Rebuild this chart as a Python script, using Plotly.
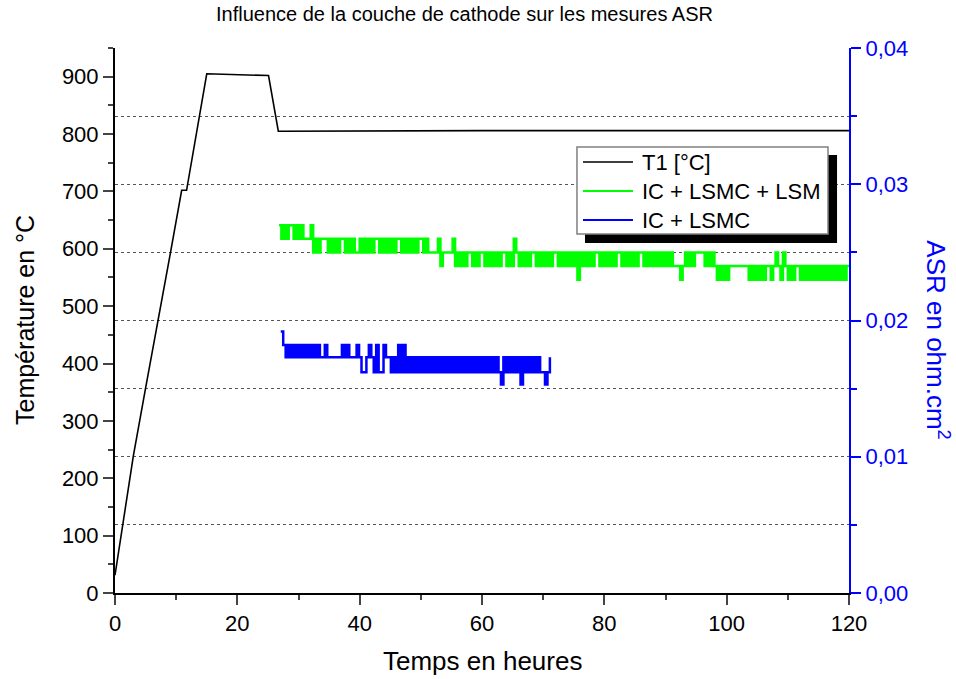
import plotly.graph_objects as go

# T1 temperature curve (hours, °C)
t1_time = [0, 1.3, 3.0, 5.0, 7.1, 9.1, 10.9, 11.7, 15.0, 20.0, 25.1, 26.7, 60.0, 120.0]
t1_temp = [31, 120, 239, 357, 476, 595, 702, 702, 905, 903, 902, 805, 806, 806]

# ASR logs, one reading every 0.4 h, values in 1e-3 ohm.cm2
green_start = 26.8
green_asr = [
    27, 26, 27, 26, 27, 27, 26, 27, 26, 27,
    26, 26, 26, 27,
    25, 26, 25, 26, 26, 26,
    25, 26, 25, 26, 25, 26, 26, 25, 26, 25, 26, 25, 25, 26, 25, 26, 25, 26, 25, 26, 26,
    25, 26, 25, 26, 25, 26, 25, 26, 26, 25, 26, 25, 26, 25, 26, 25, 26, 26, 25, 26, 25,
    25, 25, 25, 26, 24, 25, 25, 25, 25, 26, 24, 25, 24, 25, 24,
    25, 25,
    24, 25, 24, 25, 25, 24, 25, 24, 25, 24, 25, 24, 25, 25, 24, 25, 24,
    26,
    25, 24, 25, 24, 25, 24, 25, 25, 24, 25, 24, 25, 24, 25, 24, 25, 25, 24, 25, 24, 25, 24, 25, 24, 25,
    23,
    25, 24, 25, 24, 25, 24, 25, 25, 24, 25, 24, 25, 24, 25, 24, 25, 25, 24, 25, 24, 25, 24, 25, 24,
    25, 25, 24, 25, 24, 25, 24, 25, 24,
    25, 24, 25, 24, 25, 24,
    24, 24, 23, 24,
    25, 24, 25, 24,
    25, 25, 25, 25,
    24, 25, 24, 25, 24,
    23, 24, 23, 24, 23, 24,
    24, 24, 24, 24, 24, 24, 24,
    23, 24, 23, 24, 23, 24, 23, 24, 24, 23, 24,
    25, 24, 23, 25,
    24, 23, 24, 23, 24, 24, 23, 24, 23, 24, 23, 24, 23, 24, 23, 24, 23, 24, 23, 24, 23, 24, 23,
    24, 23, 24,
    24,
]

blue_start = 27.1
blue_asr = [
    19.2,
    18.2, 17.3, 18.2, 17.3, 18.2, 17.3, 18.2, 17.3, 18.2, 17.3, 18.2, 17.3, 18.2, 17.3, 18.2, 17.3,
    17.3, 18.2, 17.3, 17.3, 17.3, 17.3, 17.3,
    17.3, 18.2, 17.3, 18.2, 17.3, 17.3, 17.3, 18.2, 17.3, 16.2, 16.2, 17.3, 18.2, 17.3, 16.2, 18.2,
    16.2, 16.2, 18.2, 17.3, 17.3, 16.2, 17.3, 16.2, 18.2, 16.2, 18.2, 16.2, 17.3, 16.2, 17.3, 16.2, 17.3,
    16.2, 17.3, 16.2, 17.3, 16.2, 17.3, 16.2, 17.3, 16.2, 17.3, 16.2, 17.3, 16.2, 17.3, 16.2, 17.3,
    16.2, 17.3, 16.2, 17.3, 16.2, 17.3, 16.2, 17.3, 16.2, 17.3, 16.2, 17.3, 16.2, 17.3, 16.2, 17.3, 16.2,
    15.3,
    17.3, 16.2, 17.3, 16.2, 17.3, 16.2, 17.3,
    15.3,
    17.3, 16.2, 17.3, 16.2, 17.3, 16.2, 17.3, 16.2,
    16.2, 15.3, 16.2, 17.3,
]

green_time = [green_start + 0.4 * i for i in range(len(green_asr))]
blue_time = [blue_start + 0.4 * i for i in range(len(blue_asr))]

FONT = "Arial, Liberation Sans, sans-serif"
BLUE = "#0000ff"
GREEN = "#00ff00"

series_names = ["T1 [°C]", "IC + LSMC + LSM", "IC + LSMC"]
series_colors = ["black", GREEN, BLUE]
series_widths = [1.6, 2.5, 2.5]

fig = go.Figure()
fig.add_trace(go.Scatter(x=t1_time, y=t1_temp, name=series_names[0], mode="lines",
                         line=dict(color=series_colors[0], width=series_widths[0])))
fig.add_trace(go.Scatter(x=green_time, y=[v / 1000 for v in green_asr], name=series_names[1],
                         mode="lines", line=dict(color=GREEN, width=series_widths[1], shape="hv"),
                         yaxis="y2"))
fig.add_trace(go.Scatter(x=blue_time, y=[v / 1000 for v in blue_asr], name=series_names[2],
                         mode="lines", line=dict(color=BLUE, width=series_widths[2], shape="hv"),
                         yaxis="y2"))

fig.update_layout(
    width=956, height=679,
    margin=dict(l=115, r=107, t=48, b=86),
    plot_bgcolor="white", paper_bgcolor="white",
    font=dict(family=FONT, size=22, color="black"),
    separators=", ",
    showlegend=False,
    xaxis=dict(range=[0, 120], tickvals=[0, 20, 40, 60, 80, 100, 120], ticks="outside",
               ticklen=10, tickwidth=2, showline=True, linecolor="black", linewidth=2,
               showgrid=False, zeroline=False,
               minor=dict(dtick=10, ticks="outside", ticklen=5, tickwidth=2)),
    xaxis2=dict(range=[0, 120], overlaying="x", side="top", anchor="y",
                tickvals=[0, 20, 40, 60, 80, 100, 120], ticks="inside", ticklen=10, tickwidth=2,
                showticklabels=False, showline=True, linecolor="black", linewidth=2,
                showgrid=False, zeroline=False,
                minor=dict(dtick=10, ticks="inside", ticklen=5, tickwidth=2)),
    yaxis=dict(range=[0, 950], tickvals=list(range(0, 1000, 100)), ticks="outside",
               ticklen=10, tickwidth=2, showline=True, linecolor="black", linewidth=2,
               showgrid=False, zeroline=False,
               minor=dict(dtick=50, ticks="outside", ticklen=5, tickwidth=2)),
    yaxis2=dict(range=[0, 0.04], overlaying="y", side="right", anchor="x",
                dtick=0.01, tickformat=".2f", ticks="outside", ticklen=10, tickwidth=2,
                tickcolor=BLUE, tickfont=dict(color=BLUE), showline=True, linecolor=BLUE,
                linewidth=2, showgrid=True, gridcolor="#555555", gridwidth=1, griddash="dot",
                zeroline=False,
                minor=dict(dtick=0.005, ticks="outside", ticklen=6, tickwidth=2, tickcolor=BLUE,
                           showgrid=True, gridcolor="#555555", gridwidth=1, griddash="dot")),
)

# Origin-style legend: framed box with a drop shadow
fig.add_shape(type="rect", xref="paper", yref="paper", x0=0.6403, x1=0.9837, y0=0.6422, y1=0.8037,
              fillcolor="black", line=dict(width=0), layer="above")
fig.add_shape(type="rect", xref="paper", yref="paper", x0=0.6294, x1=0.9714, y0=0.6587, y1=0.8183,
              fillcolor="white", line=dict(color="#808080", width=1.5), layer="above")
row_y = [0.7908, 0.7376, 0.6844]
for name, color, width, yy in zip(series_names, series_colors, series_widths, row_y):
    fig.add_shape(type="line", xref="paper", yref="paper", x0=0.6376, x1=0.7057, y0=yy, y1=yy,
                  line=dict(color=color, width=min(width, 2)), layer="above")
    fig.add_annotation(text=name, xref="paper", yref="paper", x=0.7153, y=yy, xanchor="left",
                       yanchor="middle", showarrow=False, font=dict(size=22))

fig.add_annotation(text="Influence de la couche de cathode sur les mesures ASR", xref="paper", yref="paper",
                   x=0.4768, y=1.0624, xanchor="center", yanchor="middle", showarrow=False,
                   font=dict(size=20))
fig.add_annotation(text="Temps en heures", xref="paper", yref="paper", x=0.5, y=-0.1248,
                   xanchor="center", yanchor="middle", showarrow=False, font=dict(size=26))
fig.add_annotation(text="Température en °C", xref="paper", yref="paper", x=-0.1226, y=0.501,
                   xanchor="center", yanchor="middle", textangle=-90, showarrow=False,
                   font=dict(size=25))
fig.add_annotation(text="ASR en ohm.cm<sup>2</sup>", xref="paper", yref="paper", x=1.121, y=0.464,
                   xanchor="center", yanchor="middle", textangle=90, showarrow=False,
                   font=dict(size=26, color=BLUE))

# page body has a default margin, drop it so the figure sits at the window origin
fig.write_html("out.html", config=dict(displayModeBar=False),
               post_script="document.body.style.margin='0';")
